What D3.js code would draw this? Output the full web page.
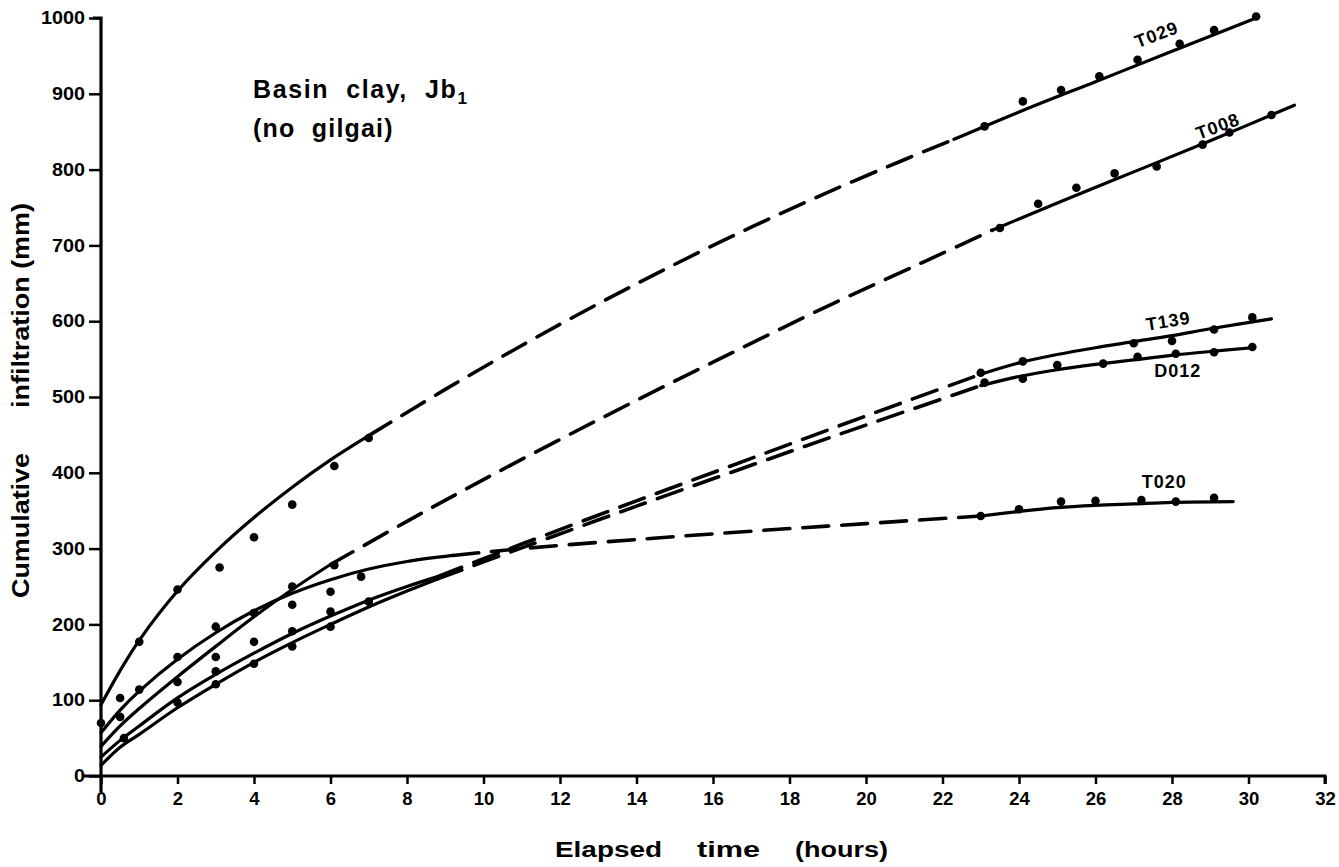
<!DOCTYPE html>
<html>
<head>
<meta charset="utf-8">
<script src="https://cdn.jsdelivr.net/npm/d3@7"></script>
<style>
  html, body { margin: 0; padding: 0; background: #fff; }
  svg { display: block; }
  text { font-family: "Liberation Sans", Arial, Helvetica, sans-serif; font-weight: bold; fill: #000; }
</style>
</head>
<body>
<svg id="chart" width="1339" height="867"></svg>
<script>
// ---------- data (hours, mm) ----------
const xTicks = [0,2,4,6,8,10,12,14,16,18,20,22,24,26,28,30,32];
const yTicks = [0,100,200,300,400,500,600,700,800,900,1000];

// observed points
const t029Points = [[0,70],[0.5,103],[1,177],[2,246],[3.1,275],[4,315],[5,358],[6.1,409],[7,446],
  [23.1,857],[24.1,890],[25.1,905],[26.1,923],[27.1,945],[28.2,966],[29.1,984],[30.2,1002]];
const t008Points = [[2,124],[3,157],[4,215],[5,250],[6.1,278],
  [23.5,723],[24.5,755],[25.5,776],[26.5,795],[27.6,804],[28.8,833],[29.5,849],[30.6,872]];
const t139Points = [[3,138],[4,177],[5,191],[6,217],[7,230],
  [23,532],[24.1,547],[27,571],[28,574],[29.1,589],[30.1,605]];
const d012Points = [[0.6,50],[2,97],[3,121],[4,148],[5,171],[6,197],
  [23.1,519],[24.1,524],[25,542],[26.2,544],[27.1,553],[28.1,557],[29.1,559],[30.1,566]];
const t020Points = [[0.5,78],[1,114],[2,157],[3,197],[4,215],[5,226],[6,243],[6.8,263],
  [23,343],[24,352],[25.1,362],[26,363],[27.2,364],[28.1,362],[29.1,367]];

// fitted curves: solid (measured range) and dashed (gap without readings)
const t029Solid1 = [[0,94],[0.5,139],[1,179],[2,244],[3,296],[4,341],[5,381],[6,417],[7,449]];
const t029Dashed = [[7,449],[9,510],[11,568],[13,623],[15,675],[17,724],[19,770],[21,813],[22.3,840]];
const t029Solid2 = [[22.3,840],[24,876],[26,916],[28,956],[30.2,1000]];

const t008Solid1 = [[0,39],[0.5,66],[1,89],[2,131],[3,171],[4,210],[5,246],[6,279]];
const t008Dashed = [[6,279],[8,336],[10,391],[13,470],[16,546],[19,620],[21.5,678],[23.3,720]];
const t008Solid2 = [[23.3,720],[25,756],[27,797],[29,838],[31.2,885]];

const t139Solid1 = [[0,25],[0.5,47],[1,66],[2,103],[3,134],[4,162],[5,188],[6,211],[7,232],[8,250],[8.8,263]];
const t139Dashed = [[8.8,263],[11,306],[14,363],[17,419],[20,475],[23,530]];
const t139Solid2 = [[23,530],[24,545],[25,556],[26,565],[27,573],[28,581],[29,590],[30.6,603]];

const d012Solid1 = [[0,14],[0.5,38],[1,55],[2,90],[3,121],[4,150],[5,176],[6,200],[7,223],[8,244],[8.8,260]];
const d012Dashed = [[8.8,260],[11,301],[14,356],[17,410],[20,463],[23,515]];
const d012Solid2 = [[23,515],[24,527],[25,536],[26,543],[27,549],[28,555],[29,560],[30.1,565]];

const t020Solid1 = [[0,57],[0.5,87],[1,112],[2,154],[3,189],[4,218],[5,241],[6,259],[7,273],[8,283],[9.2,291]];
const t020Dashed = [[9.2,291],[11,300],[14,312],[17,323],[20,333],[23,343]];
const t020Solid2 = [[23,343],[24,349],[25,354],[26,357],[27,359],[28,361],[29.6,362]];

const seriesNames = ["T029","T008","T139","D012","T020"];
const labelAnchors = [[27.6,978,-21],[29.2,857,-20],[27.9,600,-9],[28.15,534,0],[27.8,388,0]];

// ---------- drawing ----------
const svg = d3.select("#chart");
const x = d3.scaleLinear().domain([0,32]).range([101,1325]);
const y = d3.scaleLinear().domain([0,1000]).range([776,18]);

const line = d3.line().x(d=>x(d[0])).y(d=>y(d[1])).curve(d3.curveCatmullRom.alpha(0.5));

const solids = [t029Solid1,t029Solid2,t008Solid1,t008Solid2,t139Solid1,t139Solid2,d012Solid1,d012Solid2,t020Solid1,t020Solid2];
const dashes = [t029Dashed,t008Dashed,t139Dashed,d012Dashed,t020Dashed];

svg.append("g").selectAll("path").data(solids).join("path")
  .attr("d", line).attr("fill","none").attr("stroke","#000").attr("stroke-width",3.2)
  .attr("stroke-linecap","round");
svg.append("g").selectAll("path").data(dashes).join("path")
  .attr("d", line).attr("fill","none").attr("stroke","#000").attr("stroke-width",3.6)
  .attr("stroke-dasharray","26,13").attr("stroke-linecap","round");

const allPts = [].concat(t029Points,t008Points,t139Points,d012Points,t020Points);
svg.append("g").selectAll("circle").data(allPts).join("circle")
  .attr("cx",d=>x(d[0])).attr("cy",d=>y(d[1])).attr("r",4.3).attr("fill","#000");

// axes
const xAxis = d3.axisBottom(x).tickValues(xTicks).tickSize(8).tickPadding(8).tickFormat(d3.format("d"));
const gx = svg.append("g").attr("transform",`translate(0,${y(0)})`).call(xAxis);
gx.select(".domain").attr("d",`M83,0H${x(32)}V8`).attr("stroke-width",3);
gx.selectAll(".tick line").attr("stroke-width",2.5);
gx.selectAll(".tick text").attr("font-size",18.5).attr("font-weight","bold")
  .attr("font-family","Liberation Sans, Arial, sans-serif");

const yAxis = d3.axisLeft(y).tickValues(yTicks).tickSize(12).tickPadding(4).tickFormat(d3.format("d"));
const gy = svg.append("g").attr("transform",`translate(${x(0)},0)`).call(yAxis);
gy.select(".domain").attr("d",`M-8,${y(1000)}H0V${y(0)+16}`).attr("stroke-width",3.2);
gy.selectAll(".tick line").attr("stroke-width",2.5);
gy.selectAll(".tick text").attr("font-size",17.5).attr("font-weight","bold")
  .attr("font-family","Liberation Sans, Arial, sans-serif")
  .attr("textLength",function(){ return this.textContent.length*11; })
  .attr("lengthAdjust","spacingAndGlyphs");

// axis titles
svg.append("text").attr("transform","translate(29,598) rotate(-90)")
  .attr("font-size",23).attr("textLength",145).attr("lengthAdjust","spacingAndGlyphs").text("Cumulative");
svg.append("text").attr("transform","translate(29,408) rotate(-90)")
  .attr("font-size",23).attr("textLength",205).attr("lengthAdjust","spacingAndGlyphs").text("infiltration (mm)");
const xTitle = [["Elapsed",555,107],["time",697,63],["(hours)",795,93]];
svg.append("g").selectAll("text").data(xTitle).join("text")
  .attr("x",d=>d[1]).attr("y",857).attr("font-size",22)
  .attr("textLength",d=>d[2]).attr("lengthAdjust","spacingAndGlyphs").text(d=>d[0]);

// panel title
const t1 = svg.append("text").attr("x",253).attr("y",98).attr("font-size",25)
  .attr("letter-spacing",1.6).style("white-space","pre");
t1.append("tspan").text("Basin  clay,  Jb");
t1.append("tspan").attr("font-size",17).attr("dy",6).text("1");
svg.append("text").attr("x",253).attr("y",137).attr("font-size",25)
  .attr("letter-spacing",1.2).style("white-space","pre").text("(no  gilgai)");

// series labels
svg.append("g").selectAll("text").data(seriesNames).join("text")
  .attr("transform",(d,i)=>`translate(${x(labelAnchors[i][0])},${y(labelAnchors[i][1])}) rotate(${labelAnchors[i][2]})`)
  .attr("text-anchor","middle").attr("dominant-baseline","central")
  .attr("font-size",18).attr("letter-spacing",1).text(d=>d);
</script>
</body>
</html>
